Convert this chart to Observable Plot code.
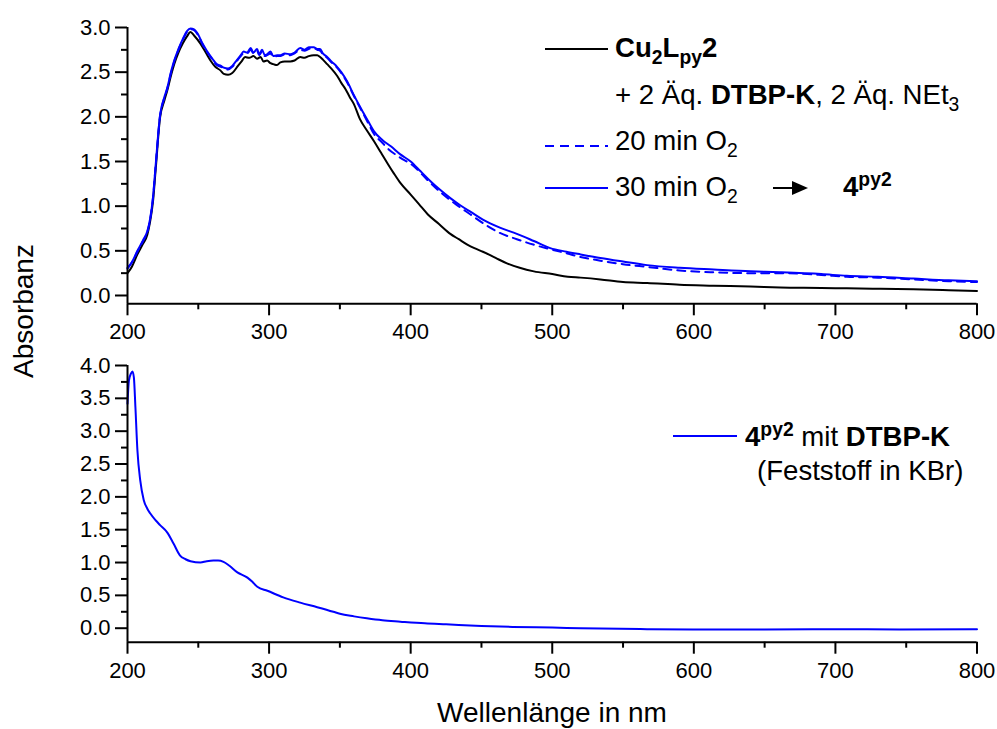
<!DOCTYPE html>
<html>
<head>
<meta charset="utf-8">
<script src="https://cdn.jsdelivr.net/npm/d3@7"></script>
<script src="https://cdn.jsdelivr.net/npm/@observablehq/plot@0.6"></script>
<style>
  html, body { margin: 0; padding: 0; background: #fff; }
  #wrap { position: relative; width: 997px; height: 729px; font-family: "Liberation Sans", Arial, sans-serif; overflow: hidden; }
  #wrap > svg { position: absolute; left: 0; }
</style>
</head>
<body>
<div id="wrap"></div>
<script>
// ---------- data ----------
// Top panel: Cu2Lpy2 (black)
const wlCu = [200,203,207,211,214,216,218,220,223,226,228,231,233,236,239,242,244.5,247,251.5,256,258.6,262,265.6,268,271,274,278,281,283,286,289,291.5,294,296,298.6,301,303,305.6,308,311,315,318,322,325,328,331.5,334,336,338,341,344,348,351,354,357,360,364,369,374,379,384,388,392.7,400,406,412,420,428,434,440,445,451,460,468,477,487,500,511,520,534,550,567,590,614,640,661,690,708,730,755,780,800];
const absCu = [0.25,0.32,0.46,0.58,0.68,0.83,1.05,1.43,1.99,2.18,2.29,2.48,2.59,2.72,2.82,2.90,2.95,2.91,2.82,2.70,2.63,2.56,2.52,2.48,2.47,2.49,2.57,2.63,2.67,2.66,2.68,2.65,2.67,2.62,2.63,2.60,2.59,2.58,2.61,2.62,2.62,2.63,2.67,2.66,2.68,2.69,2.69,2.67,2.64,2.59,2.54,2.46,2.38,2.31,2.22,2.14,1.98,1.85,1.73,1.60,1.47,1.37,1.26,1.13,1.02,0.91,0.80,0.69,0.63,0.57,0.53,0.49,0.42,0.36,0.31,0.27,0.24,0.21,0.20,0.18,0.15,0.14,0.12,0.11,0.10,0.09,0.085,0.08,0.075,0.07,0.06,0.05];

// Top panel: 20 min O2 (blue dashed)
const wl20 = [200,203,207,211,214,216,218,220,223,226,228,231,233,236,239,242,244.5,247,250,253,256,260,263,266,268,271,274,277,280,282,284.5,287,289,291.5,293,295,297,298.6,301,303,305.6,308,311,315,318,322,325,328,331.5,334,336,338,341,344,348,351,355,360,365,370,374,380,383.5,392,402,412,423,432,442,452,463,475,486.6,498,510.6,520,534,550,567,590,614,640,661,690,708,730,755,780,800];
const abs20 = [0.31,0.37,0.49,0.61,0.71,0.85,1.09,1.47,2.01,2.21,2.31,2.51,2.62,2.75,2.86,2.95,2.98,2.97,2.91,2.81,2.73,2.64,2.58,2.56,2.54,2.53,2.56,2.62,2.68,2.71,2.71,2.75,2.71,2.74,2.69,2.73,2.68,2.69,2.71,2.67,2.68,2.68,2.70,2.69,2.71,2.75,2.74,2.76,2.77,2.75,2.74,2.70,2.66,2.61,2.55,2.49,2.39,2.23,2.08,1.93,1.81,1.71,1.65,1.55,1.45,1.29,1.13,1.02,0.91,0.80,0.70,0.63,0.57,0.52,0.47,0.43,0.39,0.35,0.32,0.28,0.26,0.25,0.25,0.23,0.21,0.20,0.18,0.16,0.15];

// Top panel: 30 min O2 (blue solid)
const wl30 = [200,203,207,211,214,216,218,220,223,226,228,231,233,236,239,242,244.5,247,250,253,256,260,263,266,268,271,274,277,280,282,284.5,287,289,291.5,293,295,297,298.6,301,303,305.6,308,311,315,318,322,325,328,331.5,334,336,338,341,344,348,351,355,360,365,370,374,380,386,392.7,400,407,414,421,428,435,443,451,463,475,487,498.6,510,520,534,550,567,590,614,640,661,690,708,730,755,780,800];
const abs30 = [0.30,0.37,0.50,0.62,0.72,0.86,1.10,1.48,2.02,2.22,2.32,2.52,2.63,2.76,2.87,2.96,2.99,2.98,2.92,2.82,2.74,2.65,2.59,2.57,2.55,2.54,2.57,2.63,2.69,2.73,2.72,2.77,2.72,2.76,2.70,2.75,2.69,2.70,2.73,2.68,2.69,2.69,2.71,2.70,2.72,2.77,2.75,2.78,2.78,2.76,2.76,2.71,2.67,2.62,2.56,2.50,2.40,2.24,2.09,1.95,1.84,1.74,1.67,1.58,1.50,1.39,1.28,1.18,1.09,1.01,0.93,0.85,0.76,0.69,0.61,0.53,0.49,0.46,0.42,0.38,0.34,0.31,0.29,0.27,0.26,0.24,0.22,0.21,0.19,0.17,0.16];

// Bottom panel: 4^py2 mit DTBP-K (Feststoff in KBr)
const wlKBr = [200,201,202.5,203.5,204.5,205.6,207,209,211.5,214,216,220,223,228,232.5,237,241,244.5,251.5,256,260.7,264,267.8,272,277.6,284.7,288,291.7,298.8,310,322,334,345.4,350,360,369,380,392.7,410,425,450,472,500,520,567,600,650,700,745,800];
const absKBr = [3.42,3.77,3.88,3.91,3.82,3.36,2.71,2.25,1.95,1.82,1.75,1.64,1.57,1.46,1.29,1.11,1.05,1.02,1.00,1.02,1.03,1.03,1.01,0.95,0.85,0.77,0.71,0.63,0.57,0.47,0.39,0.32,0.25,0.22,0.18,0.15,0.12,0.10,0.075,0.06,0.035,0.02,0.01,0.0,-0.015,-0.02,-0.02,-0.015,-0.02,-0.015];

// axis ticks
const xDomain = [200, 800];
const xMajor = [200,300,400,500,600,700,800];
const xMinor = [250,350,450,550,650,750];
const topDomain = [-0.093, 3.0];
const topMajor = [0,0.5,1.0,1.5,2.0,2.5,3.0];
const topMinor = [0.25,0.75,1.25,1.75,2.25,2.75];
const botDomain = [-0.213, 4.0];
const botMajor = [0,0.5,1.0,1.5,2.0,2.5,3.0,3.5,4.0];
const botMinor = [0.25,0.75,1.25,1.75,2.25,2.75,3.25,3.75];

const zip = (w, a) => w.map((d, i) => ({w: d, a: a[i]}));
const cu = zip(wlCu, absCu), o20 = zip(wl20, abs20), o30 = zip(wl30, abs30), kbr = zip(wlKBr, absKBr);

const BLUE = "#0000ff";
const FONT = "Liberation Sans, Arial, sans-serif";
const fmt1 = d3.format(".1f");

function axes(yDom, yMaj, yMin) {
  return [
    Plot.axisX({ticks: xMajor, tickSize: 12, tickPadding: 8, fontSize: 22, strokeWidth: 2, label: null, tickFormat: d => String(d)}),
    Plot.axisX({ticks: xMinor, tickSize: 6, strokeWidth: 2, label: null, tickFormat: () => ""}),
    Plot.axisY({ticks: yMaj, tickSize: 12, tickPadding: 5, fontSize: 22, strokeWidth: 2, label: null, tickFormat: fmt1}),
    Plot.axisY({ticks: yMin, tickSize: 6, strokeWidth: 2, label: null, tickFormat: () => ""}),
    Plot.ruleX([xDomain[0]], {y1: yDom[0], y2: yDom[1], strokeWidth: 2, stroke: "black"}),
    Plot.ruleY([yDom[0]], {x1: xDomain[0], x2: xDomain[1], strokeWidth: 2, stroke: "black"})
  ];
}

const common = {
  width: 997,
  marginLeft: 127,
  marginRight: 20.5,
  x: {domain: xDomain},
  style: {fontFamily: FONT, background: "transparent", color: "black", overflow: "visible"}
};

const topPlot = Plot.plot({
  ...common,
  height: 345,
  marginTop: 27,
  marginBottom: 41.7,
  y: {domain: topDomain},
  marks: [
    Plot.line(cu, {x: "w", y: "a", stroke: "black", strokeWidth: 2, curve: "monotone-x"}),
    Plot.line(o20, {x: "w", y: "a", stroke: BLUE, strokeWidth: 2, strokeDasharray: "8,6", curve: "monotone-x"}),
    Plot.line(o30, {x: "w", y: "a", stroke: BLUE, strokeWidth: 2, curve: "monotone-x"}),
    ...axes(topDomain, topMajor, topMinor)
  ]
});

const bottomPlot = Plot.plot({
  ...common,
  height: 384,
  marginTop: 20,
  marginBottom: 87.3,
  y: {domain: botDomain},
  marks: [
    Plot.line(kbr, {x: "w", y: "a", stroke: BLUE, strokeWidth: 2, curve: "monotone-x"}),
    ...axes(botDomain, botMajor, botMinor)
  ]
});

const wrap = document.getElementById("wrap");
topPlot.style.top = "0px";
bottomPlot.style.top = "345px";
wrap.appendChild(topPlot);
wrap.appendChild(bottomPlot);

// ---------- overlay: axis titles and legends ----------
const ov = d3.select(wrap).append("svg")
  .attr("width", 997).attr("height", 729)
  .style("position", "absolute").style("top", "0px").style("left", "0px")
  .style("font-family", FONT);

ov.append("text").attr("transform", "translate(33,311) rotate(-90)")
  .attr("text-anchor", "middle").attr("font-size", 28).text("Absorbanz");
ov.append("text").attr("x", 552).attr("y", 722)
  .attr("text-anchor", "middle").attr("font-size", 28).text("Wellenlänge in nm");

const LF = 27.6;
function legendLine(y, color, dash) {
  ov.append("line").attr("x1", 545).attr("x2", 608).attr("y1", y).attr("y2", y)
    .attr("stroke", color).attr("stroke-width", 2).attr("stroke-dasharray", dash || null);
}
function rich(x, y, parts) {
  const t = ov.append("text").attr("x", x).attr("y", y).attr("font-size", LF);
  let shift = 0;
  parts.forEach(p => {
    const s = t.append("tspan").text(p.t);
    const target = p.sub ? 7 : p.sup ? -10 : 0;
    if (target !== shift) { s.attr("dy", target - shift); shift = target; }
    if (p.sub || p.sup) s.attr("font-size", LF * 0.7);
    if (p.b) s.attr("font-weight", "bold");
  });
  return t;
}

legendLine(49, "black");
rich(615, 57, [{t: "Cu", b: 1}, {t: "2", b: 1, sub: 1}, {t: "L", b: 1}, {t: "py", b: 1, sub: 1}, {t: "2", b: 1}]);
rich(615, 104, [{t: "+ 2 Äq. "}, {t: "DTBP-K", b: 1}, {t: ", 2 Äq. NEt"}, {t: "3", sub: 1}]);
legendLine(146, BLUE, "9,6");
rich(615, 150, [{t: "20 min O"}, {t: "2", sub: 1}]);
legendLine(188, BLUE);
rich(615, 196, [{t: "30 min O"}, {t: "2", sub: 1}]);
// arrow
ov.append("line").attr("x1", 773).attr("x2", 795).attr("y1", 188).attr("y2", 188).attr("stroke", "black").attr("stroke-width", 2);
ov.append("path").attr("d", "M792,181 L808,188 L792,195 Z").attr("fill", "black");
rich(843, 196, [{t: "4", b: 1}, {t: "py2", b: 1, sup: 1}]);

// bottom legend
ov.append("line").attr("x1", 673).attr("x2", 737).attr("y1", 436).attr("y2", 436).attr("stroke", BLUE).attr("stroke-width", 2);
rich(745, 446, [{t: "4", b: 1}, {t: "py2", b: 1, sup: 1}, {t: " mit "}, {t: "DTBP-K", b: 1}]);
rich(757, 480, [{t: "(Feststoff in KBr)"}]);
</script>
</body>
</html>
